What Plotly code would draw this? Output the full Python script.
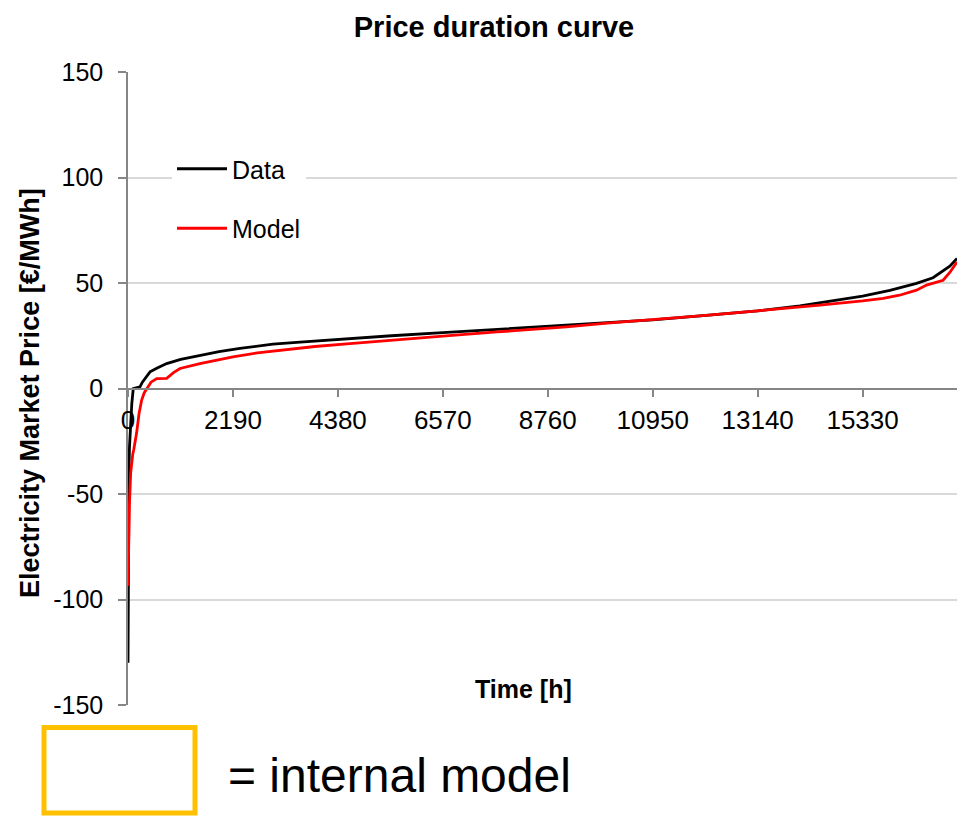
import plotly.graph_objects as go

# ---- data ----
data_hours = [0, 4, 8, 14, 20, 30, 56, 80, 110, 180, 250, 300, 380, 460, 600, 807,
              1100, 1500, 1900, 2337, 2700, 3025, 3590, 4630, 5500, 6570, 7700, 8760,
              9150, 10000, 10950, 12000, 13140, 14020, 14440, 15330, 15900,
              16455, 16800, 17010, 17150, 17300]
data_price = [-130, -100, -70, -50, -40, -28, -15, -7, 0, 0.3, 0.8, 3, 5.5, 7.9, 9.6, 11.8,
              13.8, 15.8, 17.5, 19, 20.1, 21.0, 22.0, 23.7, 25, 26.5, 28, 29.5,
              30.2, 31.3, 32.5, 34.5, 36.8, 39.2, 40.6, 43.8, 46.5,
              49.8, 52.5, 55.8, 58, 61.6]

model_hours = [0, 5, 15, 30, 56, 80, 100, 120, 160, 180, 230, 285, 340, 390, 480, 600,
               807, 950, 1085, 1500, 2190, 2700, 3240, 3900, 4630, 5500, 6570, 7700, 8760,
               9150, 10000, 10950, 12000, 13140, 14020, 14440, 15330, 15760,
               16100, 16455, 16665, 17010, 17150, 17300]
model_price = [-93.5, -85, -72, -55, -40, -34, -31, -29, -24, -21, -12, -5.5, -2, 0, 3, 4.7,
               4.8, 7.5, 9.5, 11.8, 15, 16.9, 18.4, 19.9, 21.3, 23, 24.8, 26.8, 28.5,
               29.2, 31, 32.5, 34.5, 36.8, 38.4, 39.5, 41.5, 42.7,
               44.2, 46.6, 49, 51.3, 55, 60]

x_ticks = [0, 2190, 4380, 6570, 8760, 10950, 13140, 15330]
x_tick_labels = ["0", "2190", "4380", "6570", "8760", "10950", "13140", "15330"]
y_ticks = [-150, -100, -50, 0, 50, 100, 150]
y_tick_labels = ["-150", "-100", "-50", "0", "50", "100", "150"]

FONT = "Liberation Sans, Arial, sans-serif"
AXIS_GREY = "#868686"
GRID_GREY = "#d9d9d9"

fig = go.Figure()
fig.add_trace(go.Scatter(x=data_hours, y=data_price, mode="lines", name="Data",
                         legendgroup="a", line=dict(color="black", width=2.8)))
fig.add_trace(go.Scatter(x=model_hours, y=model_price, mode="lines", name="Model",
                         legendgroup="b", line=dict(color="#ff0000", width=2.8)))

fig.update_layout(
    width=957, height=817,
    margin=dict(l=128, r=0, t=72, b=112, pad=0),
    paper_bgcolor="white", plot_bgcolor="white",
    font=dict(family=FONT, color="black"),
    title=dict(text="<b>Price duration curve</b>", font=dict(size=29, family=FONT),
               x=494 / 957, xanchor="center", xref="container",
               y=1 - 27 / 817, yanchor="middle", yref="container"),
    showlegend=True,
    legend=dict(x=(172 - 128) / 829, xanchor="left", y=(705 - 146) / 633, yanchor="top",
                bgcolor="white", borderwidth=0, font=dict(size=25, family=FONT),
                traceorder="grouped", tracegroupgap=24, itemwidth=50),
    xaxis=dict(range=[0, 17300], tickvals=x_ticks, ticktext=x_tick_labels,
               anchor="free", position=0.5, showline=True, linecolor=AXIS_GREY,
               linewidth=1.5, ticks="outside", ticklen=8, tickwidth=1.5,
               tickcolor=AXIS_GREY, showgrid=False, zeroline=False,
               tickfont=dict(size=26, family=FONT), ticklabelstandoff=1),
    yaxis=dict(range=[-150, 150], tickvals=y_ticks, ticktext=y_tick_labels,
               showline=True, linecolor=AXIS_GREY,
               linewidth=1.5, ticks="outside", ticklen=8, tickwidth=1.5,
               tickcolor=AXIS_GREY, showgrid=True, gridcolor=GRID_GREY, gridwidth=1.5,
               zeroline=False, tickfont=dict(size=25, family=FONT), ticklabelstandoff=10),
)

fig.add_annotation(text="<b>Electricity Market Price [€/MWh]</b>", textangle=-90,
                   xref="paper", yref="paper", x=(30 - 128) / 829, y=(705 - 393) / 633,
                   xanchor="center", yanchor="middle", showarrow=False,
                   font=dict(size=27, family=FONT))
fig.add_annotation(text="<b>Time [h]</b>", xref="paper", yref="paper",
                   x=(523 - 128) / 829, y=(705 - 689) / 633, xanchor="center",
                   yanchor="middle", showarrow=False, font=dict(size=25, family=FONT))
fig.add_annotation(text="= internal model", xref="paper", yref="paper",
                   x=(226 - 128) / 829, y=(705 - 775) / 633, xanchor="left",
                   yanchor="middle", showarrow=False, font=dict(size=48, family=FONT))
fig.add_shape(type="rect", xref="paper", yref="paper",
              x0=(44 - 128) / 829, x1=(195 - 128) / 829,
              y0=(705 - 813) / 633, y1=(705 - 727.5) / 633,
              line=dict(color="#FFC000", width=5), fillcolor="rgba(0,0,0,0)")

fig.write_html("out.html", config={"displayModeBar": False},
               post_script="document.body.style.margin='0';"
                           "document.body.style.overflow='hidden';")
